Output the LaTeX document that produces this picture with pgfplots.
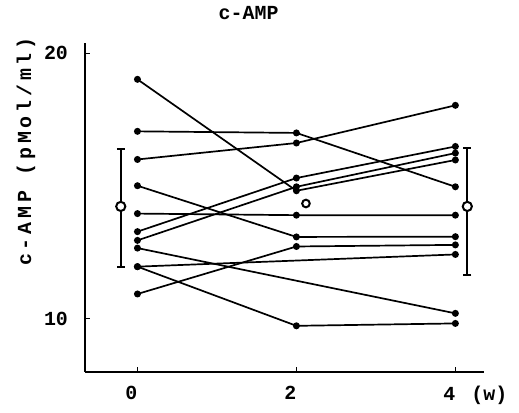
\documentclass[border=0pt]{standalone}
\usepackage{pgfplots}
\pgfplotsset{compat=1.18}
\usepackage{fontspec}
\setmainfont{Liberation Mono}
\begin{document}
\begin{tikzpicture}
\begin{axis}[
    scale only axis,
    width=199.5bp, height=164.5bp,
    xmin=-0.66, xmax=4.36,
    ymin=8, ymax=20.4,
    axis lines=left,
    axis line style={-, line width=0.9bp},
    tick align=inside,
    major tick length=2.5bp,
    tick style={line width=0.8bp, black},
    xtick={0,2,4}, ytick={10,20},
    xticklabels={0,2,{4\rlap{\hspace{8bp}(w)}}},
    /pgf/number format/assume math mode=true,
    tick label style={font=\bfseries\fontsize{10}{12}\selectfont},
    xticklabel style={yshift=-3.5bp, xshift=-3bp},
    yticklabel style={xshift=-5bp},
    title={c-AMP},
    title style={font=\bfseries\fontsize{10}{12}\selectfont, at={(axis description cs:0.41,1)}, anchor=base, yshift=5.5bp},
    ylabel={\addfontfeatures{LetterSpace=19}c-AMP (pMol/ml)},
    ylabel style={font=\bfseries\fontsize{10}{12}\selectfont, at={(axis description cs:-0.148,0.669)}, anchor=center},
    clip=false,
    pt/.style={black, solid, line width=0.85bp, mark=*, mark size=1.3bp, mark options={solid, fill=black}},
]
% individual patients
\addplot[pt] coordinates {(0,13.28) (2,15.30) (4,16.49)};
\addplot[pt] coordinates {(0,12.95) (2,14.97) (4,16.24)};
\addplot[pt] coordinates {(0,19.02) (2,14.82) (4,15.98)};
\addplot[pt] coordinates {(0,17.06) (2,17.00) (4,14.97)};
\addplot[pt] coordinates {(0,16.00) (2,16.62) (4,18.04)};
\addplot[pt] coordinates {(0,15.01) (2,13.08) (4,13.09)};
\addplot[pt] coordinates {(0,13.96) (2,13.90) (4,13.90)};
\addplot[pt] coordinates {(0,12.66) (4,10.20)};
\addplot[pt] coordinates {(0,11.96) (4,12.42)};
\addplot[pt] coordinates {(0,11.96) (2,9.73) (4,9.82)};
\addplot[pt] coordinates {(0,10.93) (2,12.72) (4,12.78)};
% means with SD
\addplot[black, only marks, mark=*, mark size=2.3bp, line width=1bp,
    mark options={fill=white, draw=black},
    error bars/.cd, y dir=both, y explicit,
    error bar style={line width=0.9bp, black},
    error mark options={rotate=90, mark size=2bp, line width=0.9bp, black}]
    coordinates {(-0.21,14.23) += (0,2.17) -= (0,2.27) (4.15,14.23) += (0,2.21) -= (0,2.59)};
\addplot[black, only marks, mark=*, mark size=1.9bp, line width=1bp,
    mark options={fill=white, draw=black}]
    coordinates {(2.12,14.34)};
\end{axis}
\path (current axis.south west) ++(-42.5bp,-20.5bp) rectangle ([xshift=17.5bp, yshift=19.5bp]current axis.north east);
\end{tikzpicture}
\end{document}
